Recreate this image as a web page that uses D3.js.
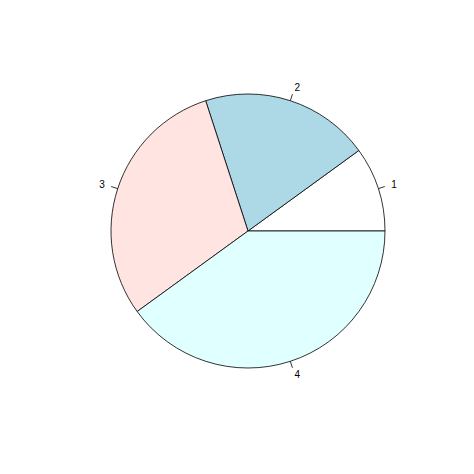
<!DOCTYPE html>
<html>
<head>
<meta charset="utf-8">
<script src="https://cdn.jsdelivr.net/npm/d3@7"></script>
<style>body{margin:0;background:#fff}</style>
</head>
<body>
<svg id="chart" width="474" height="474"></svg>
<script>
const labels = ["1", "2", "3", "4"];
const values = [1, 2, 3, 4];
const colors = ["#ffffff", "#add8e6", "#ffe4e1", "#e0ffff"];

const cx = 248, cy = 231, r = 137;
const svg = d3.select("#chart");
const g = svg.append("g").attr("transform", `translate(${cx},${cy})`);

// R draws counter-clockwise from 3 o'clock
const pie = d3.pie().sort(null).startAngle(Math.PI / 2).endAngle(Math.PI / 2 - 2 * Math.PI);
const arc = d3.arc().innerRadius(0).outerRadius(r);
const arcs = pie(values);

g.selectAll("path").data(arcs).enter().append("path")
  .attr("d", arc)
  .attr("fill", (d, i) => colors[i])
  .attr("stroke", "#000")
  .attr("stroke-width", 0.8);

arcs.forEach((d, i) => {
  const a = (d.startAngle + d.endAngle) / 2;
  const sx = Math.sin(a), sy = -Math.cos(a);
  g.append("line")
    .attr("x1", r * sx).attr("y1", r * sy)
    .attr("x2", 1.05 * r * sx).attr("y2", 1.05 * r * sy)
    .attr("stroke", "#000").attr("stroke-width", 0.8);
  g.append("text")
    .attr("x", 1.1 * r * sx).attr("y", 1.1 * r * sy)
    .attr("dy", "0.35em")
    .attr("text-anchor", sx >= 0 ? "start" : "end")
    .attr("font-family", "Liberation Sans, Arial, sans-serif")
    .attr("font-size", 10)
    .text(labels[i]);
});
</script>
</body>
</html>
